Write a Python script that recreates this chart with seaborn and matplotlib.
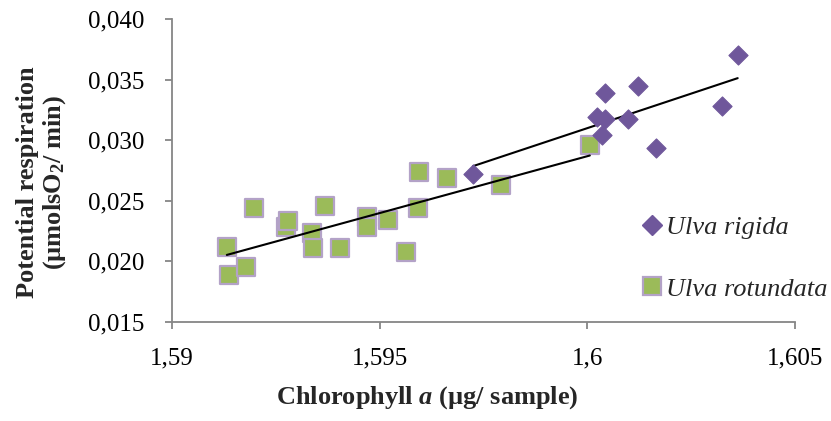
import numpy as np
import pandas as pd
import matplotlib
matplotlib.use("Agg")
import matplotlib.pyplot as plt
import seaborn as sns
from matplotlib.lines import Line2D

# ---- data ----
rigida_x = [1.59725, 1.60023, 1.60042, 1.60035, 1.60042, 1.60098, 1.60122, 1.60165, 1.60324, 1.60362]
rigida_y = [0.02721, 0.03192, 0.03175, 0.03043, 0.03390, 0.03175, 0.03447, 0.02936, 0.03282, 0.03703]

rotundata_x = [1.59132, 1.59137, 1.59178, 1.59197, 1.59274, 1.59279, 1.59337, 1.59339, 1.59368, 1.59404,
               1.59469, 1.59469, 1.59520, 1.59563, 1.59592, 1.59595, 1.59662, 1.59792, 1.60006]
rotundata_y = [0.02119, 0.01888, 0.01954, 0.02441, 0.02284, 0.02334, 0.02235, 0.02111, 0.02457, 0.02111,
               0.02367, 0.02284, 0.02342, 0.02078, 0.02441, 0.02738, 0.02688, 0.02630, 0.02960]

x_ticks = [1.59, 1.595, 1.60, 1.605]
x_tick_labels = ["1,59", "1,595", "1,6", "1,605"]
y_ticks = [0.015, 0.020, 0.025, 0.030, 0.035, 0.040]
y_tick_labels = ["0,015", "0,020", "0,025", "0,030", "0,035", "0,040"]

series_names = ["Ulva rigida", "Ulva rotundata"]

# ---- style ----
sns.set_theme(style="white")
plt.rcParams["font.family"] = ["Liberation Serif", "DejaVu Serif"]
plt.rcParams["mathtext.fontset"] = "custom"
plt.rcParams["mathtext.rm"] = "Liberation Serif:bold"
plt.rcParams["mathtext.it"] = "Liberation Serif:italic:bold"
plt.rcParams["mathtext.bf"] = "Liberation Serif:bold"

purple = "#6F579B"
green = "#9BBB59"
green_edge = "#B3A2C7"
axis_gray = "#868686"

fig = plt.figure(figsize=(8.31, 4.21), dpi=100)
ax = fig.add_axes([172 / 831, 1 - 322 / 421, (795 - 172) / 831, (322 - 19) / 421])

df_r = pd.DataFrame({"x": rigida_x, "y": rigida_y})
df_t = pd.DataFrame({"x": rotundata_x, "y": rotundata_y})

# trendlines
sns.regplot(data=df_t, x="x", y="y", scatter=False, ci=None, truncate=True,
            color="black", line_kws={"lw": 1.5, "zorder": 3}, ax=ax)
sns.regplot(data=df_r, x="x", y="y", scatter=False, ci=None, truncate=True,
            color="black", line_kws={"lw": 1.5, "zorder": 3}, ax=ax)

sns.scatterplot(data=df_t, x="x", y="y", marker="s", s=175, color=green,
                edgecolor=green_edge, linewidth=1.6, ax=ax, zorder=2, legend=False)
sns.scatterplot(data=df_r, x="x", y="y", marker="D", s=95, color=purple,
                edgecolor=purple, linewidth=0.8, ax=ax, zorder=4, legend=False)

ax.set_xlim(1.59, 1.605)
ax.set_ylim(0.015, 0.040)
ax.set_xticks(x_ticks)
ax.set_xticklabels(x_tick_labels)
ax.set_yticks(y_ticks)
ax.set_yticklabels(y_tick_labels)

for side in ["top", "right"]:
    ax.spines[side].set_visible(False)
for side in ["left", "bottom"]:
    ax.spines[side].set_color(axis_gray)
    ax.spines[side].set_linewidth(1.3)

ax.tick_params(axis="both", which="both", direction="out", length=5, width=1.3,
               color=axis_gray, labelsize=18, labelcolor="black")
ax.tick_params(axis="y", pad=15, left=True)
ax.tick_params(axis="x", pad=13, bottom=True)

ax.set_xlabel(r"Chlorophyll $a$ (µg/ sample)", fontsize=19, fontweight="bold")
ax.xaxis.set_label_coords(0.409, -0.206)
ax.set_ylabel("Potential respiration\n(µmolsO$_2$/ min)", fontsize=19, fontweight="bold",
              linespacing=1.1)
ax.yaxis.set_label_coords(-0.167, 0.46)

# legend
handles = [
    Line2D([], [], marker="D", linestyle="none", markersize=10, markerfacecolor=purple,
           markeredgecolor=purple),
    Line2D([], [], marker="s", linestyle="none", markersize=12.5, markerfacecolor=green,
           markeredgecolor=green_edge, markeredgewidth=1.6),
]
leg = fig.legend(handles, series_names, loc="upper left",
                 bbox_to_anchor=(632 / 831, 1 - 205 / 421), frameon=False,
                 prop={"family": "Liberation Serif", "style": "italic", "size": 19},
                 handlelength=0.7, handletextpad=0.19, labelspacing=1.44, borderaxespad=0)

fig.savefig("out.png", dpi=100)
